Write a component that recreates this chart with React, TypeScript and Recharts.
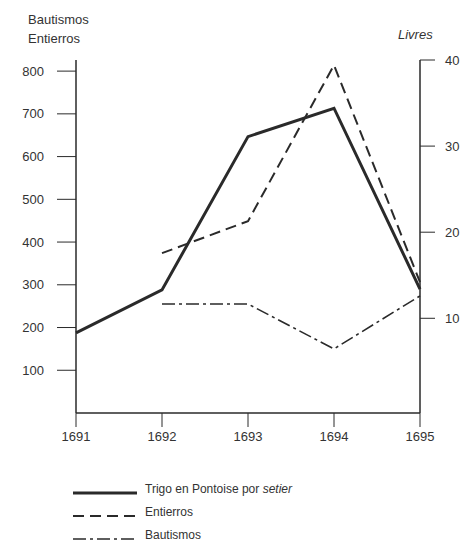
import React from 'react';
import { LineChart, Line, XAxis, YAxis } from 'recharts';

const YEARS = ['1691', '1692', '1693', '1694', '1695'];
// precio del trigo, en livres (eje derecho)
const TRIGO = [8.3, 13.3, 31.1, 34.4, 13.4];
// eje izquierdo
const ENTIERROS: (number | null)[] = [null, 374, 449, 814, 306];
const BAUTISMOS: (number | null)[] = [null, 255, 255, 150, 274];

const LEFT_TICKS = [100, 200, 300, 400, 500, 600, 700, 800];
const RIGHT_TICKS = [10, 20, 30, 40];

const INK = '#2a2a2a';
const FONT = '"Liberation Sans", Arial, sans-serif';

const data = YEARS.map((year, i) => ({
    year,
    trigo: TRIGO[i],
    entierros: ENTIERROS[i],
    bautismos: BAUTISMOS[i],
}));

const LEGEND = [
    { label: 'Trigo en Pontoise por ', italic: 'setier', width: 3, dash: undefined },
    { label: 'Entierros', italic: '', width: 2, dash: '11 6' },
    { label: 'Bautismos', italic: '', width: 1.6, dash: '13 4 3 4' },
];

export default function App() {
    const tick = { fill: '#333', fontSize: 13, fontFamily: FONT };
    return (
        <div style={{ position: 'relative', width: 464, height: 545, background: '#fff', fontFamily: FONT, color: '#333' }}>
            <style>{'body{margin:0}'}</style>
            <div style={{ position: 'absolute', left: 28, top: 10, fontSize: 13, lineHeight: '19px' }}>
                Bautismos<br />Entierros
            </div>
            <div style={{ position: 'absolute', left: 398, top: 27, fontSize: 13, fontStyle: 'italic' }}>Livres</div>
            <LineChart width={464} height={545} data={data} margin={{ top: 60, right: 0, bottom: 92, left: 0 }}>
                <XAxis
                    dataKey="year"
                    height={40}
                    stroke={INK}
                    tick={tick}
                    tickSize={14}
                    tickMargin={5}
                    axisLine={{ stroke: INK, strokeWidth: 1.5 }}
                />
                <YAxis
                    yAxisId="left"
                    width={76}
                    domain={[0, 826]}
                    ticks={LEFT_TICKS}
                    tick={tick}
                    tickSize={19}
                    tickMargin={13}
                    stroke={INK}
                    axisLine={{ stroke: INK, strokeWidth: 1.5 }}
                />
                <YAxis
                    yAxisId="right"
                    orientation="right"
                    width={44}
                    domain={[-1, 40]}
                    ticks={RIGHT_TICKS}
                    tick={tick}
                    tickSize={15}
                    tickMargin={10}
                    stroke={INK}
                    axisLine={{ stroke: INK, strokeWidth: 1.5 }}
                />
                <Line yAxisId="right" dataKey="trigo" stroke={INK} strokeWidth={3} dot={false} isAnimationActive={false} />
                <Line yAxisId="left" dataKey="entierros" stroke={INK} strokeWidth={2} strokeDasharray="11 6" dot={false} isAnimationActive={false} />
                <Line yAxisId="left" dataKey="bautismos" stroke={INK} strokeWidth={1.6} strokeDasharray="13 4 3 4" dot={false} isAnimationActive={false} />
            </LineChart>
            <div style={{ position: 'absolute', left: 73, top: 477 }}>
                {LEGEND.map((item) => (
                    <div key={item.label} style={{ display: 'flex', alignItems: 'center', height: 23, fontSize: 12 }}>
                        <svg width={66} height={12} style={{ marginTop: 8 }}>
                            <line x1={0} y1={6} x2={64} y2={6} stroke={INK} strokeWidth={item.width} strokeDasharray={item.dash} />
                        </svg>
                        <span style={{ marginLeft: 6 }}>
                            {item.label}
                            {item.italic && <i>{item.italic}</i>}
                        </span>
                    </div>
                ))}
            </div>
        </div>
    );
}
